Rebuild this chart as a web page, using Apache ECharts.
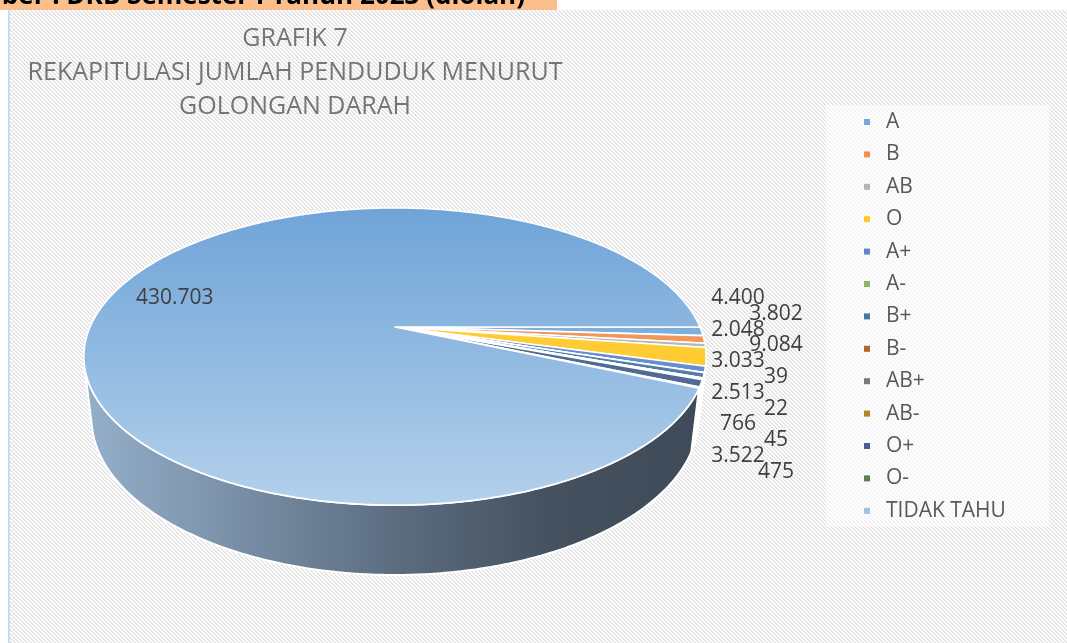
<!DOCTYPE html>
<html>
<head>
<meta charset="utf-8">
<script src="https://cdn.jsdelivr.net/npm/echarts@6/dist/echarts.min.js"></script>
<style>
  html, body { margin: 0; padding: 0; background: #fff; }
  #wrap { position: relative; width: 1067px; height: 643px; overflow: hidden; }
  #hatch {
    position: absolute; left: 8px; top: 10px; right: 0; bottom: 0;
    border-left: 2px solid #c9dbef;
    background-color: #f0f0f0;
    background-repeat: repeat;
  }
  #chart { position: absolute; left: 0; top: 0; width: 1067px; height: 643px; }
</style>
</head>
<body>
<div id="wrap">
  <div id="hatch"></div>
  <div id="chart"></div>
</div>
<script>
var categories = ['A', 'B', 'AB', 'O', 'A+', 'A-', 'B+', 'B-', 'AB+', 'AB-', 'O+', 'O-', 'TIDAK TAHU'];
var values = [4400, 3802, 2048, 9084, 3033, 39, 2513, 22, 766, 45, 3522, 475, 430703];
var colors = ['#5B9BD5', '#ED7D31', '#A5A5A5', '#FFC000', '#4472C4', '#70AD47',
  '#255E91', '#9E480E', '#636363', '#997300', '#264478', '#43682B', '#9DC3E6'];
var titleLines = ['GRAFIK 7', 'REKAPITULASI JUMLAH PENDUDUK MENURUT', 'GOLONGAN DARAH'];
var sourceText = 'Sumber : DKB Semester I Tahun 2023 (diolah)';

// diagonal hatch tile for the chart area background
(function () {
  var c = document.createElement('canvas');
  c.width = 4; c.height = 4;
  var ctx = c.getContext('2d');
  for (var y = 0; y < 4; y++) {
    for (var x = 0; x < 4; x++) {
      var d = ((x - y) % 4 + 4) % 4;
      ctx.fillStyle = d === 0 ? '#dedede' : (d === 1 ? '#ebebeb' : '#ffffff');
      ctx.fillRect(x, y, 1, 1);
    }
  }
  document.getElementById('hatch').style.backgroundImage = 'url(' + c.toDataURL() + ')';
})();

// 3d pie projection (tilted disc seen in perspective)
var cx = 395, cy = 327, k = 1357, D = 4.45, sE = 0.468, cE = 0.884, depth = 0.23;
var FONT = '"Open Sans", "Noto Sans", sans-serif';

var total = values.reduce(function (a, b) { return a + b; }, 0);
var starts = [];
var acc = 0;
values.forEach(function (v) {
  starts.push(acc / total * Math.PI * 2);
  acc += v;
});

function proj(t, r, y) {
  var x = r * Math.cos(t), z = -r * Math.sin(t);
  var d = D + z * cE - y * sE;
  return [cx + k * x / d, cy - k * (y * cE + z * sE) / d];
}

function arc(a0, a1, y) {
  var n = Math.max(2, Math.ceil((a1 - a0) / 0.01));
  var pts = [];
  for (var i = 0; i <= n; i++) pts.push(proj(a0 + (a1 - a0) * i / n, 1, y));
  return pts;
}

function lighten(hex, t) {
  var n = parseInt(hex.slice(1), 16);
  var r = (n >> 16) & 255, g = (n >> 8) & 255, b = n & 255;
  r = Math.round(r + (255 - r) * t); g = Math.round(g + (255 - g) * t); b = Math.round(b + (255 - b) * t);
  return 'rgb(' + r + ',' + g + ',' + b + ')';
}

function fmt(v) {
  return String(v).replace(/\B(?=(\d{3})+(?!\d))/g, '.');
}

var visFrom = Math.asin(1 / (D * cE));
var visTo = Math.PI - visFrom;
var last = values.length - 1;

function renderItem(params, api) {
  var i = params.dataIndex;
  var a0 = starts[i];
  var a1 = i < last ? starts[i + 1] : Math.PI * 2;
  var children = [];

  var topFill, sideFill;
  if (i === last) {
    topFill = new echarts.graphic.LinearGradient(0, 210, 0, 502, [
      { offset: 0, color: '#70A4D8' },
      { offset: 1, color: '#B3D0EB' }
    ], true);
    sideFill = new echarts.graphic.LinearGradient(84, 0, 706, 0, [
      { offset: 0, color: '#95B0CB' },
      { offset: 0.5, color: '#5C6D80' },
      { offset: 0.75, color: '#45515F' },
      { offset: 1, color: '#3E4A57' }
    ], true);
  } else {
    topFill = lighten(colors[i], 0.2);
    sideFill = colors[i];
  }

  // outer wall, only the part facing the viewer
  var s0 = Math.max(a0, visFrom), s1 = Math.min(a1, visTo);
  if (s1 > s0) {
    var pts = arc(s0, s1, 0).concat(arc(s0, s1, -depth).reverse());
    children.push({
      type: 'polygon', z2: 1,
      shape: { points: pts },
      style: { fill: sideFill, stroke: '#fff', lineWidth: 2, lineJoin: 'round' }
    });
  }

  // top face
  children.push({
    type: 'polygon', z2: 10,
    shape: { points: [[cx, cy]].concat(arc(a0, a1, 0)) },
    style: { fill: topFill, stroke: '#fff', lineWidth: 1.6, lineJoin: 'round' }
  });

  // value label
  var lx, ly;
  if (i === last) {
    var p = proj((a0 + a1) / 2, 0.76, 0);
    lx = p[0]; ly = p[1] - 8;
  } else {
    lx = 738 + (i % 2) * 38;
    ly = 298 + i * 15.8;
  }
  children.push({
    type: 'text', z2: 20,
    style: {
      x: lx, y: ly, text: fmt(api.value(0)),
      align: 'center', verticalAlign: 'middle',
      fontSize: 21, fontFamily: FONT, fill: '#404040'
    }
  });

  return { type: 'group', children: children };
}

var chart = echarts.init(document.getElementById('chart'), null, { renderer: 'canvas' });
chart.setOption({
  backgroundColor: 'transparent',
  animation: false,
  title: {
    text: titleLines.join('\n'),
    left: 290,
    top: 17,
    textAlign: 'center',
    textStyle: { fontFamily: FONT, fontSize: 25, fontWeight: 'normal', color: '#757575', lineHeight: 34 }
  },
  legend: {
    orient: 'vertical',
    left: 826,
    top: 105,
    padding: [6, 43, 5, 38],
    backgroundColor: 'rgba(255,255,255,0.6)',
    icon: 'rect',
    itemWidth: 6,
    itemHeight: 6,
    itemGap: 10.4,
    data: categories,
    selectedMode: false,
    textStyle: { fontFamily: FONT, fontSize: 21, color: '#595959', lineHeight: 22, padding: [0, 0, 0, 11] }
  },
  graphic: [
    { type: 'rect', shape: { x: 0, y: 0, width: 557, height: 10 }, style: { fill: '#FBBE8D' }, z: 100 },
    {
      type: 'text', z: 101, x: 525, y: 10,
      style: { text: sourceText, align: 'right', verticalAlign: 'bottom', fontSize: 26, fontWeight: 'bold', fontFamily: FONT, fill: '#000' }
    }
  ],
  series: [
    {
      type: 'custom',
      name: 'pie3d',
      coordinateSystem: 'none',
      silent: true,
      renderItem: renderItem,
      data: values.map(function (v, i) { return { name: categories[i], value: v }; })
    },
    {
      // only feeds the legend
      type: 'pie',
      radius: 0,
      center: [-100, -100],
      silent: true,
      label: { show: false },
      labelLine: { show: false },
      data: values.map(function (v, i) {
        return { name: categories[i], value: v, itemStyle: { color: i === last ? colors[i] : lighten(colors[i], 0.15) } };
      })
    }
  ]
});
</script>
</body>
</html>
